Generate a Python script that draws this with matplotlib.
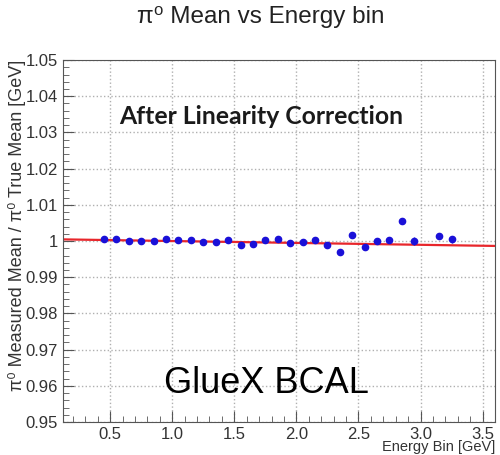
import matplotlib
matplotlib.use('Agg')
import matplotlib.pyplot as plt
from matplotlib.ticker import MultipleLocator
import numpy as np

# energy bins [GeV] and measured/true mean ratio after linearity correction
energy = [0.45, 0.55, 0.65, 0.75, 0.85, 0.95, 1.05, 1.15, 1.25, 1.35,
          1.45, 1.55, 1.65, 1.75, 1.85, 1.95, 2.05, 2.15, 2.25, 2.35,
          2.45, 2.55, 2.65, 2.75, 2.85, 2.95, 3.15, 3.25]
ratio = [1.00045, 1.0005, 1.0001, 1.0000, 1.0001, 1.00045, 1.0004, 1.0004, 0.9998, 0.9997,
         1.0002, 0.9990, 0.9993, 1.0004, 1.0005, 0.9994, 0.9997, 1.0003, 0.9989, 0.9970,
         1.0018, 0.9983, 1.0000, 1.0002, 1.0056, 1.0001, 1.0015, 1.0005]
ratio_err = [0.0002, 0.0002, 0.0002, 0.0002, 0.0002, 0.0002, 0.0002, 0.0002, 0.0002, 0.0002,
             0.0002, 0.0002, 0.0002, 0.0002, 0.0002, 0.0002, 0.0002, 0.0002, 0.0002, 0.0002,
             0.0003, 0.0003, 0.0003, 0.0003, 0.0006, 0.0011, 0.0004, 0.0010]

# linear fit p0 + p1*E
p0 = 1.00052
p1 = -0.00052

xlo, xhi = 0.12, 3.6
fam = ['Liberation Sans', 'DejaVu Sans']

fig = plt.figure(figsize=(5, 4.55), dpi=100)
ax = fig.add_axes([0.126, 0.0725, 0.864, 0.7955])

xf = np.array([xlo, xhi])
ax.plot(xf, p0 + p1 * xf, color='#e8262b', lw=1.6, zorder=2)
ax.errorbar(energy, ratio, yerr=ratio_err, fmt='o', color='#1a10d8', ms=4.5,
            elinewidth=1, capsize=0, zorder=3)

ax.set_xlim(xlo, xhi)
ax.set_ylim(0.95, 1.05)
ax.xaxis.set_major_locator(MultipleLocator(0.5))
ax.xaxis.set_minor_locator(MultipleLocator(0.1))
ax.yaxis.set_minor_locator(MultipleLocator(0.002))
ax.set_yticks(np.arange(0.95, 1.0501, 0.01))
ax.set_yticklabels(['0.95', '0.96', '0.97', '0.98', '0.99', '1',
                    '1.01', '1.02', '1.03', '1.04', '1.05'])
ax.tick_params(which='both', direction='in', top=False, right=False,
               labelsize=12, labelcolor='#333333', color='#555555')
ax.tick_params(which='major', length=8)
ax.tick_params(which='minor', length=4)
for lab in ax.get_xticklabels() + ax.get_yticklabels():
    lab.set_family(fam)
ax.grid(True, which='major', ls=':', color='#b0b0b0', lw=1)
for s in ax.spines.values():
    s.set_color('#555555')

ax.set_xlabel('Energy Bin [GeV]', family=fam, fontsize=10.5,
              color='#333333', loc='right', labelpad=-1)
ax.set_ylabel('π⁰ Measured Mean / π⁰ True Mean [GeV]',
              family=fam, fontsize=13, color='#333333',
              loc='top', labelpad=0)

fig.text(0.522, 0.962, 'π⁰ Mean vs Energy bin', ha='center', va='center',
         family=fam, fontsize=17.5, color='#222222')
ax.text(0.459, 0.824, 'After Linearity Correction', transform=ax.transAxes,
        ha='center', va='baseline', family='Lato', fontweight='bold',
        fontsize=17.8, color='#1a1a1a')
ax.text(0.472, 0.08, 'GlueX BCAL', transform=ax.transAxes,
        ha='center', va='baseline', family='Liberation Sans', fontsize=26,
        color='black')

fig.savefig('out.png', dpi=100)
